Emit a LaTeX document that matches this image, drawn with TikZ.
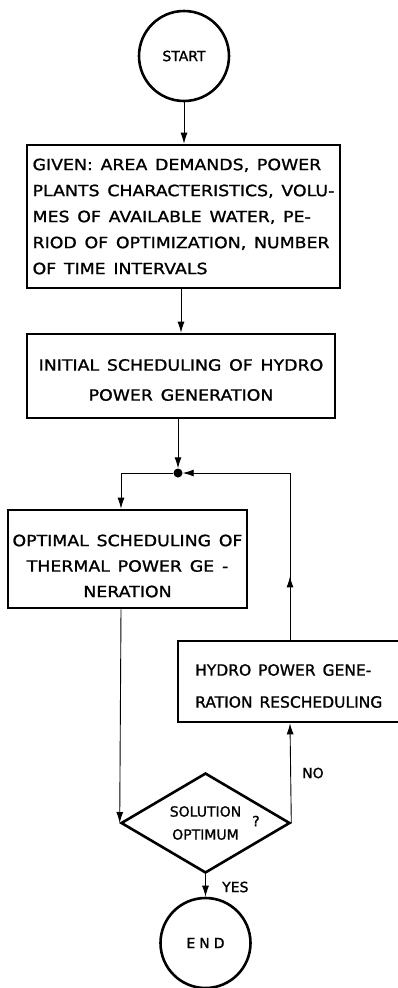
\documentclass[tikz,border=0pt]{standalone}
\usepackage{fontspec}
\setmainfont{DejaVu Sans}
\newfontfamily\bxfam[FakeStretch=1.12,FakeBold=1.2]{DejaVu Sans}
\newfontfamily\nfam[FakeBold=1.2]{DejaVu Sans}
\usetikzlibrary{arrows.meta,shapes.geometric,calc}
\newcommand{\bxfont}[1]{\bxfam\fontsize{15.5}{#1}\selectfont\spaceskip=0.5em\relax}
\newcommand{\bxfontn}[1]{\nfam\fontsize{15.5}{#1}\selectfont\spaceskip=0.45em\relax}
\begin{document}
\begin{tikzpicture}[x=1pt,y=-1pt,
  boxstyle/.style={draw,line width=2.6pt,inner sep=0pt},
  txtstyle/.style={inner sep=0pt,align=center},
  termstyle/.style={draw,circle,line width=2.6pt,inner sep=0pt,minimum size=90pt,font=\nfam\fontsize{14}{16}\selectfont},
  decstyle/.style={draw,diamond,aspect=1.69,line width=2.6pt,inner sep=0pt,align=center,font=\nfam\fontsize{14}{23}\selectfont},
  conn/.style={line width=0.9pt},
  arr/.style={conn,-{Latex[length=11pt,width=7pt]}},
  lbl/.style={inner sep=0pt,font=\nfam\fontsize{14}{16}\selectfont},
  dotstyle/.style={circle,fill,inner sep=0pt,minimum size=9pt}
]
\useasboundingbox (0,0) rectangle (398,988);
\node[termstyle] (start) at (184,56) {START};
\node[boxstyle,minimum width=313pt,minimum height=143pt,align=left,font=\bxfont{26}] (b1) at (183.5,216.5)
  {GIVEN: AREA DEMANDS, POWER\\PLANTS CHARACTERISTICS, VOLU-\\MES OF AVAILABLE WATER, PE-\\RIOD OF OPTIMIZATION, NUMBER\\OF TIME INTERVALS};
\node[boxstyle,minimum width=308pt,minimum height=84pt] (b2) at (181,376) {};
\node[txtstyle,font=\bxfont{30}] (b2t) at (181,380) {INITIAL SCHEDULING OF HYDRO\\POWER GENERATION};
\node[dotstyle] (jn) at (178,473) {};
\node[boxstyle,minimum width=239pt,minimum height=98pt] (b3) at (127.5,559) {};
\node[txtstyle,font=\bxfont{25.5}] (b3t) at (127.5,566) {OPTIMAL SCHEDULING OF\\THERMAL POWER GE -\\NERATION};
\node[boxstyle,minimum width=224pt,minimum height=81pt] (b4) at (290,681.5) {};
\node[txtstyle,align=left,anchor=west,font=\bxfontn{32}] (b4t) at (195,686) {HYDRO POWER GENE-\\RATION RESCHEDULING};
\node[decstyle,minimum width=169pt,minimum height=100pt] (dec) at (205.5,823) {SOLUTION\\OPTIMUM};
\node[termstyle] (end) at (205.5,943) {E\hspace{4pt}N\hspace{4pt}D};
\node[lbl] (q) at (256,821) {?};
\node[lbl,anchor=west] (no) at (302,773) {NO};
\node[lbl,anchor=west] (yes) at (222,887) {YES};
\coordinate (cl) at (121,473);
\coordinate (cr) at (290,473);
\draw[arr] (start) -- (start |- b1.north);
\draw[arr] (b2.north |- b1.south) -- (b2.north);
\draw[arr] (b2.south -| jn) -- (jn.north);
\draw[arr] (jn.west) -- (cl) -- (cl |- b3.north);
\draw[arr] (b4.north) -- ($(b4.north)!0.38!(cr)$);
\draw[arr] (b4.north) -- (cr) -- (jn.east);
\draw[arr] (b3.south -| cl) -- (dec.west);
\draw[arr] (dec.east) -- (b4.south);
\draw[arr] (dec.south) -- (end.north);
\end{tikzpicture}
\end{document}
